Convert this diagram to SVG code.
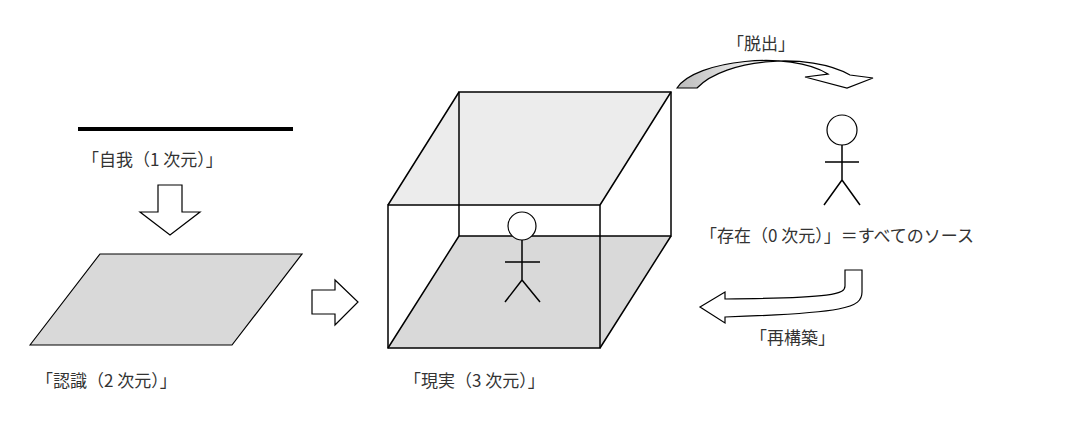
<svg xmlns="http://www.w3.org/2000/svg" width="1083" height="425" viewBox="0 0 1083 425">
<style>
text{font-family:"Noto Sans CJK JP","Liberation Sans",sans-serif;font-size:17px;fill:#333}
.s{stroke:#000;stroke-width:1.5;fill:none}
.b{stroke:#000;stroke-width:1.2;fill:#fff}
</style>
<defs><linearGradient id="g" x1="0" x2="1"><stop offset="0" stop-color="#bbb"/><stop offset="0.5" stop-color="#fff"/></linearGradient></defs>
<rect width="1083" height="425" fill="#fff"/>
<g id="self"><line x1="78" y1="129" x2="293" y2="129" stroke="#000" stroke-width="4"/><text x="82" y="166">「自我（1 次元）」</text></g>
<g id="cognition"><polygon points="30,345 100,254 302,254 232,345" fill="#d9d9d9" stroke="#000" stroke-width="1.2"/><text x="36" y="387">「認識（2 次元）」</text></g>
<g id="reality">
<polygon points="388,205 459,92 671,92 600,205" fill="#ececec"/>
<polygon points="388,348 459,236 671,236 600,348" fill="#d9d9d9"/>
<rect x="459" y="92" width="212" height="144" class="s"/>
<rect x="388" y="205" width="212" height="143" class="s"/>
<path d="M388,205L459,92M600,205L671,92M388,348L459,236M600,348L671,236" class="s"/>
<circle cx="522" cy="226" r="14" class="b"/>
<path d="M522,240V280M505,262H540M522,280L505,302M522,280L540,302" class="s"/>
<text x="404" y="387">「現実（3 次元）」</text></g>
<g id="being">
<circle cx="842" cy="130" r="15" class="b"/>
<path d="M842,145V180M825,162H859M842,180L824,205M842,180L860,205" class="s"/>
<text x="700" y="242">「存在（0 次元）」＝すべてのソース</text></g>
<g id="connectors">
<path d="M158,185H182V212H200L170,235L140,212H158Z" class="b"/>
<path d="M312,290H335V280L358,302L335,325V314H312Z" class="b"/>
<path d="M677,88C695,60 790,50 828,74L805,77L847,88L873,78L850,75C810,52 725,58 697,88Z" fill="url(#g)" stroke="#000" stroke-width="1.2"/>
<path d="M845,270H862V292C862,308 845,313 725,317V323L700,307L725,292V299C835,298 845,294 845,286Z" class="b"/>
</g>
<text x="727" y="50">「脱出」</text>
<text x="750" y="344">「再構築」</text>
</svg>
